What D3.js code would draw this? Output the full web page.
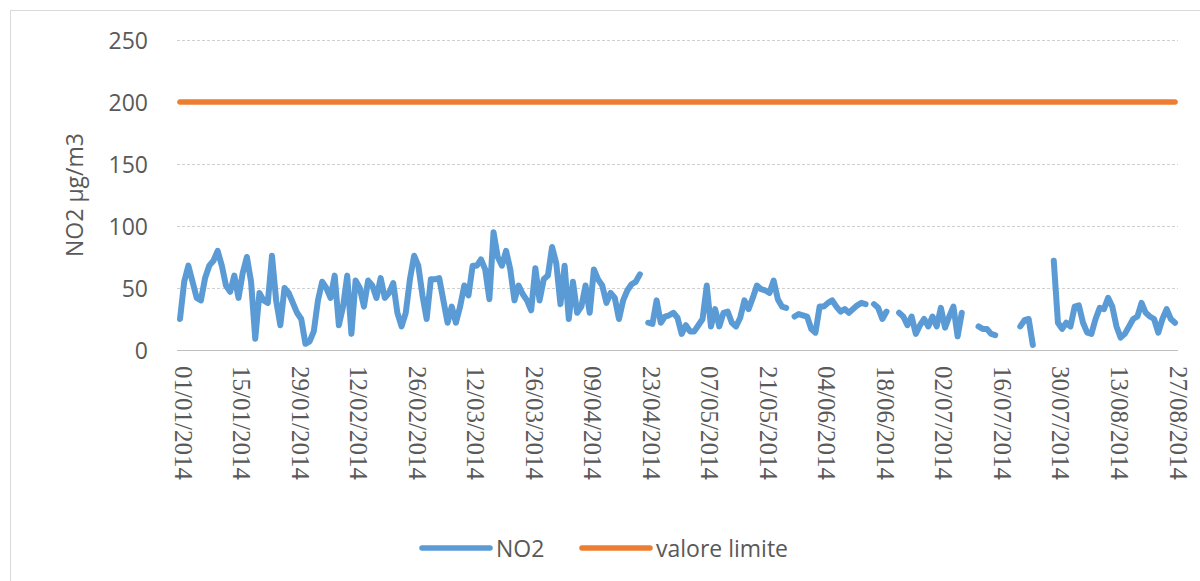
<!DOCTYPE html>
<html>
<head>
<meta charset="utf-8">
<script src="https://cdnjs.cloudflare.com/ajax/libs/d3/7.8.5/d3.min.js"></script>
<style>
  html, body { margin: 0; padding: 0; background: #fff; }
  svg { display: block; }
</style>
</head>
<body>
<div id="chart"></div>
<script>
  // daily NO2 values from 01/01/2014, null = missing day
  var startDate = '01/01/2014';
  var no2 = [
    25, 55, 68, 55, 42, 40, 58, 68, 72, 80,
    68, 52, 47, 60, 42, 62, 75, 55, 9, 46,
    40, 38, 76, 40, 20, 50, 46, 38, 30, 25,
    5, 7, 15, 40, 55, 50, 42, 60, 20, 35,
    60, 13, 56, 50, 35, 56, 52, 42, 58, 42,
    46, 54, 30, 19, 30, 57, 76, 68, 44, 25,
    57, 57, 58, 40, 22, 35, 22, 35, 52, 44,
    68, 68, 73, 65, 41, 95, 75, 68, 80, 65,
    40, 52, 45, 40, 32, 66, 40, 57, 60, 83,
    70, 37, 68, 25, 55, 30, 35, 52, 30, 65,
    57, 52, 38, 46, 42, 25, 40, 48, 53, 55,
    61, null, 22, 21, 40, 22, 27, 28, 30, 26,
    13, 20, 15, 15, 20, 25, 52, 19, 33, 19,
    30, 31, 22, 19, 26, 40, 33, 42, 52, 49,
    48, 46, 56, 41, 35, 34, null, 27, 29, 28,
    27, 17, 14, 35, 35, 38, 40, 35, 31, 33,
    30, 33, 36, 38, 37, null, 37, 34, 25, 31,
    null, null, 30, 27, 20, 27, 13, 20, 25, 19,
    27, 19, 34, 18, 27, 35, 11, 30, null, null,
    null, 19, 17, 17, 13, 12, null, null, null, null,
    null, 19, 24, 25, 4, null, null, null, null, 72,
    22, 17, 22, 19, 35, 36, 22, 14, 13, 25,
    34, 33, 42, 35, 19, 10, 13, 19, 25, 27,
    38, 30, 27, 25, 14, 25, 33, 25, 22
  ];
  var limitValue = 200;
  var yTicks = [0, 50, 100, 150, 200, 250];
  var xTickLabels = [
    '01/01/2014', '15/01/2014', '29/01/2014', '12/02/2014', '26/02/2014', '12/03/2014',
    '26/03/2014', '09/04/2014', '23/04/2014', '07/05/2014', '21/05/2014', '04/06/2014',
    '18/06/2014', '02/07/2014', '16/07/2014', '30/07/2014', '13/08/2014', '27/08/2014'
  ];
  var seriesNames = ['NO2', 'valore limite'];

  var width = 1200, height = 581;
  var blue = '#5b9bd5', orange = '#ed7d31', textColor = '#595959';

  var parse = d3.utcParse('%d/%m/%Y');
  var first = parse(startDate);
  var rows = no2.map(function(v, i) {
    return { date: d3.utcDay.offset(first, i), value: v };
  });

  var x = d3.scaleUtc()
    .domain([first, rows[rows.length - 1].date])
    .range([180, 1175]);
  var y = d3.scaleLinear().domain([0, 250]).range([350, 40]);

  var svg = d3.select('#chart').append('svg')
    .attr('width', width)
    .attr('height', height);

  function translate(a, b) {
    return 'translate(' + a + ',' + b + ')';
  }

  svg.append('rect')
    .attr('x', 10.5).attr('y', 10.5)
    .attr('width', 1200).attr('height', 600)
    .attr('fill', 'none')
    .attr('stroke', '#d9d9d9');

  // gridlines
  svg.append('g').selectAll('line').data(yTicks).enter()
    .append('line')
      .attr('x1', x.range()[0] - 3)
      .attr('x2', x.range()[1] + 3)
      .attr('y1', function(d) { return Math.round(y(d)) + 0.5; })
      .attr('y2', function(d) { return Math.round(y(d)) + 0.5; })
      .attr('stroke', function(d) { return d === 0 ? '#bfbfbf' : '#d0d0d0'; })
      .attr('stroke-dasharray', function(d) { return d === 0 ? null : '3,2'; })
      .attr('stroke-width', 1);

  // y tick labels
  svg.append('g').selectAll('text').data(yTicks).enter()
    .append('text')
      .attr('x', 148)
      .attr('y', function(d) { return y(d); })
      .attr('text-anchor', 'end')
      .attr('dominant-baseline', 'central')
      .attr('font-family', 'Open Sans, sans-serif')
      .attr('font-size', 23)
      .attr('fill', textColor)
      .text(function(d) { return d; });

  // y title
  svg.append('text')
    .attr('transform', translate(74, 195) + ' rotate(-90)')
    .attr('text-anchor', 'middle')
    .attr('dominant-baseline', 'central')
    .attr('font-family', 'Open Sans, sans-serif')
    .attr('font-size', 23)
    .attr('fill', textColor)
    .text('NO2 µg/m3');

  // x tick labels, rotated to read downwards
  svg.append('g').selectAll('text').data(xTickLabels).enter()
    .append('text')
      .attr('transform', function(d) { return translate(x(parse(d)) + 3, 366) + ' rotate(90)'; })
      .attr('text-anchor', 'start')
      .attr('dominant-baseline', 'central')
      .attr('font-family', 'Liberation Serif, serif')
      .attr('font-size', 25)
      .attr('fill', textColor)
      .text(function(d) { return d; });

  // limit line
  svg.append('path')
    .datum(rows)
    .attr('fill', 'none')
    .attr('stroke', orange)
    .attr('stroke-width', 5.5)
    .attr('stroke-linecap', 'round')
    .attr('d', d3.line()
      .x(function(d) { return x(d.date); })
      .y(function() { return y(limitValue); }));

  // NO2 series
  svg.append('path')
    .datum(rows)
    .attr('fill', 'none')
    .attr('stroke', blue)
    .attr('stroke-width', 6)
    .attr('stroke-linejoin', 'round')
    .attr('stroke-linecap', 'round')
    .attr('d', d3.line()
      .defined(function(d) { return d.value !== null; })
      .x(function(d) { return x(d.date); })
      .y(function(d) { return y(d.value); }));

  // legend
  var legendX = [422, 582];
  var legend = svg.append('g').selectAll('g').data(seriesNames).enter()
    .append('g')
      .attr('transform', function(d, i) { return translate(legendX[i], 548); });
  legend.append('line')
    .attr('x1', 0).attr('x2', 68)
    .attr('stroke', function(d, i) { return i === 0 ? blue : orange; })
    .attr('stroke-width', 5.5)
    .attr('stroke-linecap', 'round');
  legend.append('text')
    .attr('x', 74)
    .attr('dominant-baseline', 'central')
    .attr('font-family', 'Open Sans, sans-serif')
    .attr('font-size', 23)
    .attr('fill', textColor)
    .text(function(d) { return d; });
</script>
</body>
</html>
